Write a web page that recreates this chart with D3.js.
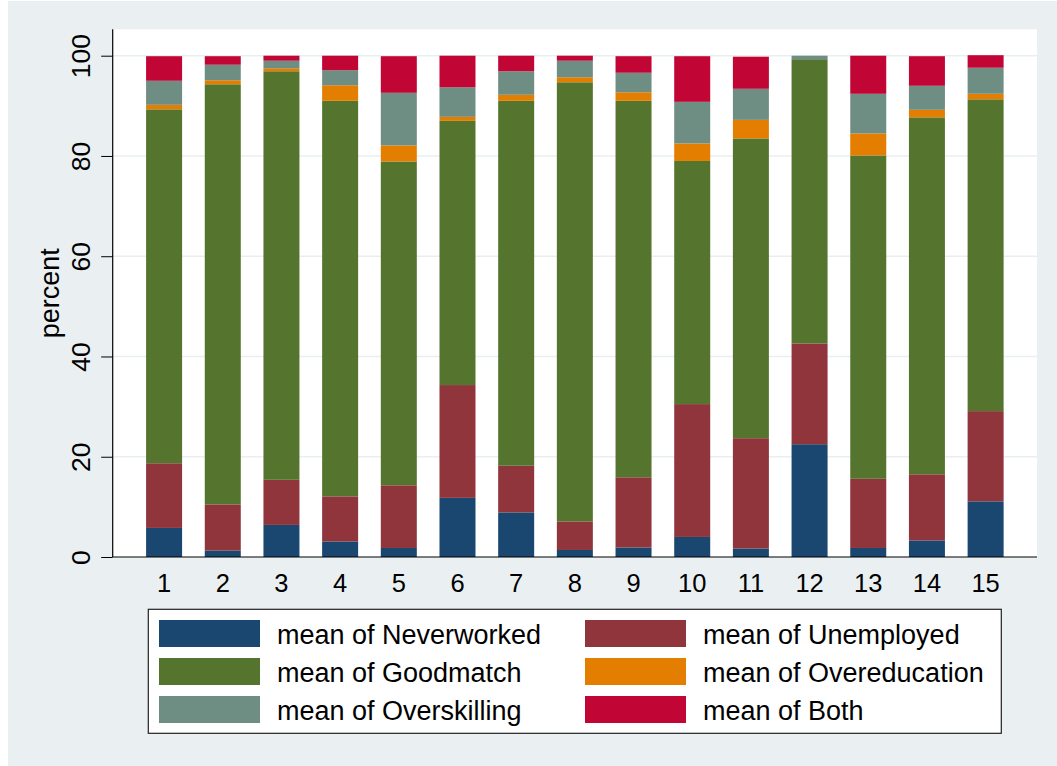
<!DOCTYPE html>
<html>
<head>
<meta charset="utf-8">
<script src="https://cdn.jsdelivr.net/npm/d3@7"></script>
<style>
	body { margin: 0; background: #fff; }
	svg text { font-family: Arial, "Liberation Sans", sans-serif; fill: #000; }
</style>
</head>
<body>
<div id="chart"></div>
<script>
var categories = ['1', '2', '3', '4', '5', '6', '7', '8', '9', '10', '11', '12', '13', '14', '15'];

var neverworked   = [5.8, 1.3, 6.4, 3.1, 1.8, 11.8, 8.9, 1.4, 1.9, 4.0, 1.7, 22.5, 1.8, 3.3, 11.1];
var unemployed    = [12.9, 9.2, 9.0, 9.0, 12.5, 22.5, 9.3, 5.7, 14.0, 26.5, 22.0, 20.1, 13.8, 13.2, 18.0];
var goodmatch     = [70.6, 83.8, 81.5, 78.9, 64.6, 52.7, 72.8, 87.6, 75.1, 48.5, 59.8, 56.7, 64.5, 71.2, 62.2];
var overeducation = [0.9, 0.8, 0.6, 3.1, 3.2, 0.8, 1.2, 1.0, 1.7, 3.5, 3.7, 0.0, 4.4, 1.5, 1.1];
var overskilling  = [4.8, 3.1, 1.5, 3.0, 10.5, 5.9, 4.7, 3.3, 3.9, 8.3, 6.2, 0.7, 7.9, 4.8, 5.2];
var both          = [4.9, 1.7, 1.0, 2.9, 7.3, 6.3, 3.1, 1.0, 3.3, 9.1, 6.4, 0.0, 7.6, 5.9, 2.5];

var seriesNames = ['mean of Neverworked', 'mean of Unemployed', 'mean of Goodmatch',
	'mean of Overeducation', 'mean of Overskilling', 'mean of Both'];
var yTicks = [0, 20, 40, 60, 80, 100];

var chart = {
	w: 1057,
	h: 766,
	plot: { left: 112.7, right: 1037, top: 29.3, bottom: 557 },
	// stata s2color
	colors: ['#1a476f', '#90353b', '#55752f', '#e37e00', '#6e8e84', '#c10534'],
	init: function() {
		var series = [neverworked, unemployed, goodmatch, overeducation, overskilling, both];
		chart.rows = categories.map(function(c, i) {
			var r = { cat: c };
			series.forEach(function(s, k) { r['s' + k] = s[i]; });
			return r;
		});
		chart.keys = series.map(function(s, k) { return 's' + k; });
		chart.draw();
	},
	draw: function() {
		var p = chart.plot;
		var svg = d3.select('#chart').append('svg')
			.attr('width', chart.w)
			.attr('height', chart.h);

		// graph region
		svg.append('rect')
			.attr('x', 8).attr('y', 1)
			.attr('width', chart.w - 8).attr('height', chart.h - 1)
			.attr('fill', '#eaf0f2');
		svg.append('rect')
			.attr('x', p.left).attr('y', p.top)
			.attr('width', p.right - p.left).attr('height', p.bottom - p.top)
			.attr('fill', '#fff');

		var x = d3.scaleBand()
			.domain(categories)
			.range([p.left, p.right])
			.paddingInner(0.3865)
			.paddingOuter(0.569);
		var y = d3.scaleLinear().domain([0, 100]).range([p.bottom, 55.7]);

		// grid
		svg.append('g').selectAll('line')
			.data(yTicks.slice(1))
			.join('line')
			.attr('x1', p.left).attr('x2', p.right)
			.attr('y1', function(d) { return y(d); })
			.attr('y2', function(d) { return y(d); })
			.attr('stroke', '#e8eff2')
			.attr('stroke-width', 1.6);

		var stack = d3.stack().keys(chart.keys)(chart.rows);

		svg.append('g').selectAll('g')
			.data(stack)
			.join('g')
			.attr('fill', function(d, i) { return chart.colors[i]; })
			.selectAll('rect')
			.data(function(d) { return d; })
			.join('rect')
			.attr('x', function(d) { return x(d.data.cat); })
			.attr('width', x.bandwidth())
			.attr('y', function(d) { return y(d[1]); })
			.attr('height', function(d) { return Math.max(0, y(d[0]) - y(d[1])); });

		// y axis
		var yAxis = svg.append('g')
			.attr('transform', 'translate(' + p.left + ',0)')
			.call(d3.axisLeft(y).tickValues(yTicks).tickSize(11.5).tickSizeOuter(0).tickPadding(0));
		yAxis.select('.domain').remove();
		yAxis.selectAll('.tick line').attr('stroke', '#000');
		yAxis.selectAll('.tick text')
			.attr('font-size', 26.5)
			.attr('text-anchor', 'middle')
			.attr('dy', 0)
			.attr('x', 0)
			.attr('transform', 'translate(-23,0)rotate(-90)');
		svg.append('line')
			.attr('x1', p.left).attr('x2', p.left)
			.attr('y1', p.top).attr('y2', p.bottom)
			.attr('stroke', '#000').attr('stroke-width', 1.2);

		// x axis, no ticks
		var xAxis = svg.append('g')
			.attr('transform', 'translate(0,' + p.bottom + ')')
			.call(d3.axisBottom(x).tickSize(0).tickPadding(0));
		xAxis.select('.domain').remove();
		xAxis.selectAll('.tick text')
			.attr('font-size', 25.5)
			.attr('dy', 0)
			.attr('y', 35);
		svg.append('line')
			.attr('x1', p.left).attr('x2', p.right)
			.attr('y1', p.bottom).attr('y2', p.bottom)
			.attr('stroke', '#000').attr('stroke-width', 1.2);

		svg.append('text')
			.attr('transform', 'translate(59,' + (p.top + p.bottom) / 2 + ')rotate(-90)')
			.attr('text-anchor', 'middle')
			.attr('font-size', 27)
			.text('percent');

		chart.legend(svg);
	},
	legend: function(svg) {
		var g = svg.append('g');
		g.append('rect')
			.attr('x', 148.3).attr('y', 609.3)
			.attr('width', 853).attr('height', 124)
			.attr('fill', '#fff')
			.attr('stroke', '#222')
			.attr('stroke-width', 1.2);

		var items = g.selectAll('g.item')
			.data(seriesNames)
			.join('g')
			.attr('class', 'item')
			.attr('transform', function(d, i) {
				return 'translate(' + (i % 2 ? 585 : 159) + ',' + (620 + Math.floor(i / 2) * 38) + ')';
			});
		items.append('rect')
			.attr('width', 101).attr('height', 27)
			.attr('fill', function(d, i) { return chart.colors[i]; });
		items.append('text')
			.attr('x', 118).attr('y', 23.5)
			.attr('font-size', 27)
			.text(function(d) { return d; });
	}
};

chart.init();
</script>
</body>
</html>
